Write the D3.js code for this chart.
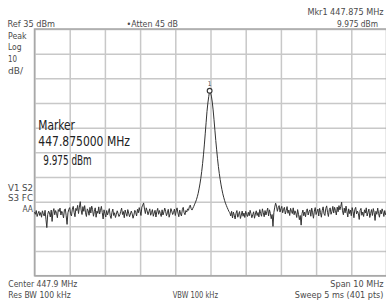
<!DOCTYPE html>
<html><head><meta charset="utf-8">
<script src="https://cdn.jsdelivr.net/npm/d3@7"></script>
<style>
html,body{margin:0;padding:0;background:#fff;}
svg{display:block;}
text{font-family:"DejaVu Sans Condensed","Liberation Sans Narrow","DejaVu Sans",sans-serif;}
</style></head>
<body>
<svg id="c" width="386" height="307"></svg>
<script>
// ---- settings ----
const centerMHz = 447.9;
const spanMHz = 10;
const refLevel = 35;      // dBm, top of graticule
const dbPerDiv = 10;
const divisions = 10;

// ---- trace (dBm), 401 points across the span ----
const trace = [
-39.2,-40.1,-38.6,-41.0,-39.8,-38.9,-40.6,-39.4,-41.3,-38.7,-39.9,-40.8,-38.5,-42.1,-45.5,-40.2,-38.8,-39.6,-41.2,-38.4,
-43.0,-39.1,-37.8,-40.3,-38.6,-39.7,-41.5,-38.2,-39.0,-37.6,-40.4,-38.9,-39.8,-41.6,-38.3,-37.9,-40.7,-44.2,-39.5,-38.1,
-37.4,-39.9,-40.8,-38.0,-36.9,-39.3,-41.1,-37.7,-38.6,-36.5,-39.8,-37.2,-35.0,-38.4,-40.2,-37.0,-38.9,-36.6,-39.5,-41.0,
-37.9,-38.7,-40.5,-37.3,-39.6,-36.8,-38.2,-40.9,-39.0,-37.5,-41.3,-38.8,-39.7,-37.1,-40.0,-38.5,-36.9,-39.4,-42.0,-38.3,
-39.9,-41.2,-38.6,-40.4,-39.1,-37.8,-40.7,-41.8,-39.3,-38.0,-40.6,-39.5,-41.4,-40.1,-38.7,-39.8,-41.0,-40.3,-38.9,-37.6,
-40.2,-39.0,-41.5,-38.4,-39.7,-40.9,-38.2,-39.6,-41.1,-40.0,-38.8,-39.9,-41.7,-40.4,-38.5,-39.3,-40.8,-38.1,-39.5,-37.4,
-38.9,-40.6,-37.2,-36.4,-35.5,-38.0,-39.8,-37.5,-38.7,-40.3,-39.1,-37.9,-40.5,-39.4,-38.2,-40.9,-39.6,-38.5,-41.2,-39.0,
-37.7,-40.1,-38.6,-39.8,-41.0,-38.3,-40.4,-39.2,-37.6,-38.9,-40.7,-39.5,-38.1,-41.3,-39.9,-37.8,-38.8,-40.2,-39.4,-38.0,
-40.6,-38.7,-37.5,-39.6,-41.1,-38.4,-39.9,-40.8,-38.2,-37.3,-39.5,-40.3,-38.6,-39.2,-37.9,-38.5,-37.0,-36.4,-37.8,
-38.4,-37.6,-36.9,-36.0,-35.2,-34.2,-33.0,-31.6,-29.8,-27.8,
-25.5,-22.8,-19.6,-16.0,-12.0,-7.5,-3.0,1.5,5.0,7.6,
9.975,
9.3,7.8,5.4,2.2,-1.8,-6.0,-10.2,-14.0,-17.6,-20.8,
-23.6,-26.0,-28.2,-30.1,-31.8,-33.2,-34.5,-35.6,-36.5,-37.4,
-38.2,-39.0,
-39.5,-40.8,-38.9,-41.6,-39.2,-40.5,-42.0,-39.7,-38.6,-41.3,-40.1,-39.0,-41.8,-40.4,-38.8,-40.9,-39.6,-41.4,-38.9,-40.2,
-41.0,-39.3,-40.7,-38.5,-39.9,-41.5,-40.3,-39.1,-41.7,-40.0,-38.7,-40.6,-39.4,-41.2,-38.2,-39.8,-40.9,-37.9,-39.5,-41.1,
-38.6,-40.4,-39.0,-37.6,-40.8,-38.3,-39.7,-41.9,-40.2,-45.0,-39.4,-37.2,-35.6,-36.8,-38.9,-37.4,-36.6,-39.2,-37.8,-36.9,
-39.5,-38.1,-37.3,-40.0,-38.6,-37.0,-39.7,-38.4,-40.6,-37.7,-38.9,-39.8,-37.5,-40.3,-38.7,-39.6,-41.4,-38.2,-40.1,-42.3,
-40.6,-44.5,-39.8,-38.4,-40.7,-39.2,-41.1,-38.6,-37.9,-40.4,-39.0,-38.3,-40.9,-37.6,-39.5,-41.7,-38.8,-37.4,-40.2,-39.1,
-38.0,-40.8,-37.7,-39.4,-41.3,-38.5,-37.1,-39.9,-40.6,-37.8,-36.7,-39.3,-41.0,-38.2,-37.5,-40.1,-38.9,-36.9,-39.6,-37.3,
-38.6,-40.4,-37.2,-39.1,-36.6,-38.3,-37.0,-35.2,-38.7,-40.3,-37.6,-39.5,-36.8,-38.9,-41.2,-37.9,-39.8,-38.4,-40.7,-37.4,
-39.0,-41.5,-38.1,-37.3,-40.0,-38.8,-39.7,-42.2,-38.5,-37.7,-40.5,-39.2,-41.0,-38.3,-39.6,-37.5,-40.8,-39.3,-38.0,-41.4,
-39.7,-38.2,-40.6,-37.8,-39.4,-42.6,-38.9,-40.1,-37.6,-39.8,-41.3,-38.5,-40.0,-37.9,-39.1,-41.0,-38.6,-40.3,-39.5
];

// ---- text labels ----
const headerLeft = ["Ref 35 dBm", "\u2022Atten 45 dB"];
const markerReadout = ["Mkr1  447.875 MHz", "9.975 dBm"];
const sideLabels = ["Peak", "Log", "10", "dB/"];
const sideLabels2 = ["V1  S2", "S3  FC", "AA"];
const markerBox = ["Marker", "447.875000 MHz", "9.975 dBm"];
const footer = ["Center 447.9 MHz", "Res BW 100 kHz", "VBW 100 kHz", "Span 10 MHz", "Sweep 5 ms (401 pts)"];
const markerId = "1";

// ---- drawing ----
const svg = d3.select("#c");
const L = 34.5, R = 386.5, T = 29, B = 275.7;
const fStart = centerMHz - spanMHz / 2, fStop = centerMHz + spanMHz / 2;
const x = d3.scaleLinear().domain([fStart, fStop]).range([L, R]);
const y = d3.scaleLinear().domain([refLevel - dbPerDiv * divisions, refLevel]).range([B, T]);
const step = spanMHz / (trace.length - 1);
const freqs = trace.map((d, i) => fStart + i * step);

const xGrid = d3.range(divisions + 1).map(i => fStart + i * spanMHz / divisions);
const yGrid = d3.range(divisions + 1).map(i => refLevel - i * dbPerDiv);

const g = svg.append("g");
g.append("g").attr("transform", `translate(0,${B})`)
  .call(d3.axisBottom(x).tickValues(xGrid).tickSize(B - T).tickSizeOuter(0).tickFormat(""))
  .call(a => a.select(".domain").remove())
  .call(a => a.selectAll("line").attr("transform", `translate(0,${-(B - T)})`).attr("stroke", "#c8c8c8").attr("stroke-width", 1.5));
g.append("g").attr("transform", `translate(${L},0)`)
  .call(d3.axisRight(y).tickValues(yGrid).tickSize(R - L).tickSizeOuter(0).tickFormat(""))
  .call(a => a.select(".domain").remove())
  .call(a => a.selectAll("line").attr("stroke", "#c8c8c8").attr("stroke-width", 1.5));
// border
g.append("rect").attr("x", L).attr("y", T).attr("width", R - L).attr("height", B - T)
  .attr("fill", "none").attr("stroke", "#a8a8a8").attr("stroke-width", 1.5);

// trace
const line = d3.line().x((d, i) => x(freqs[i])).y(d => y(d));
svg.append("path").datum(trace).attr("d", line)
  .attr("fill", "none").attr("stroke", "#333").attr("stroke-width", 1).attr("stroke-linejoin", "round");

// marker
const mi = d3.maxIndex(trace);
svg.append("circle").attr("cx", x(freqs[mi])).attr("cy", y(trace[mi])).attr("r", 2.4)
  .attr("fill", "#fff").attr("stroke", "#333").attr("stroke-width", 1.1);
svg.append("text").attr("x", x(freqs[mi])).attr("y", y(trace[mi]) - 4.5).attr("text-anchor", "middle")
  .attr("font-size", 6.5).attr("fill", "#444").text(markerId);

function label(txt, xx, yy, w, size, color) {
  svg.append("text").attr("x", xx).attr("y", yy).attr("font-size", size).attr("fill", color || "#4a4a4a")
    .attr("textLength", w).attr("lengthAdjust", "spacingAndGlyphs").text(txt);
}
function labelEnd(txt, xx, yy, size) {
  svg.append("text").attr("x", xx).attr("y", yy).attr("font-size", size).attr("fill", "#4a4a4a")
    .attr("text-anchor", "end").text(txt);
}
label(headerLeft[0], 7.5, 26.5, 47.5, 9.5);
label(headerLeft[1], 126.5, 26.5, 51.5, 9.5);
labelEnd(markerReadout[0], 383.5, 15, 9);
label(markerReadout[1], 337, 26.5, 41, 9.5);
const sideY = [38.5, 50, 62, 74], sideW = [18.5, 13.5, 9, 15];
sideLabels.forEach((s, i) => label(s, 8, sideY[i], sideW[i], 9.5));
label(sideLabels2[0], 8, 190.5, 25, 9.5);
label(sideLabels2[1], 8, 200.5, 25, 9.5);
label(sideLabels2[2], 22.5, 212, 10.5, 8.5);
label(markerBox[0], 38.3, 130, 36.7, 13.5, "#222");
label(markerBox[1], 38.3, 145.5, 91.7, 13.5, "#222");
label(markerBox[2], 43.3, 165, 48.4, 13.5, "#222");
label(footer[0], 8.3, 287, 69, 9.5);
label(footer[1], 8.3, 298, 62.4, 9.5);
label(footer[2], 172.7, 298, 45.3, 9.5);
labelEnd(footer[3], 383.5, 286.5, 9);
labelEnd(footer[4], 383.5, 298, 9);
</script>
</body></html>
